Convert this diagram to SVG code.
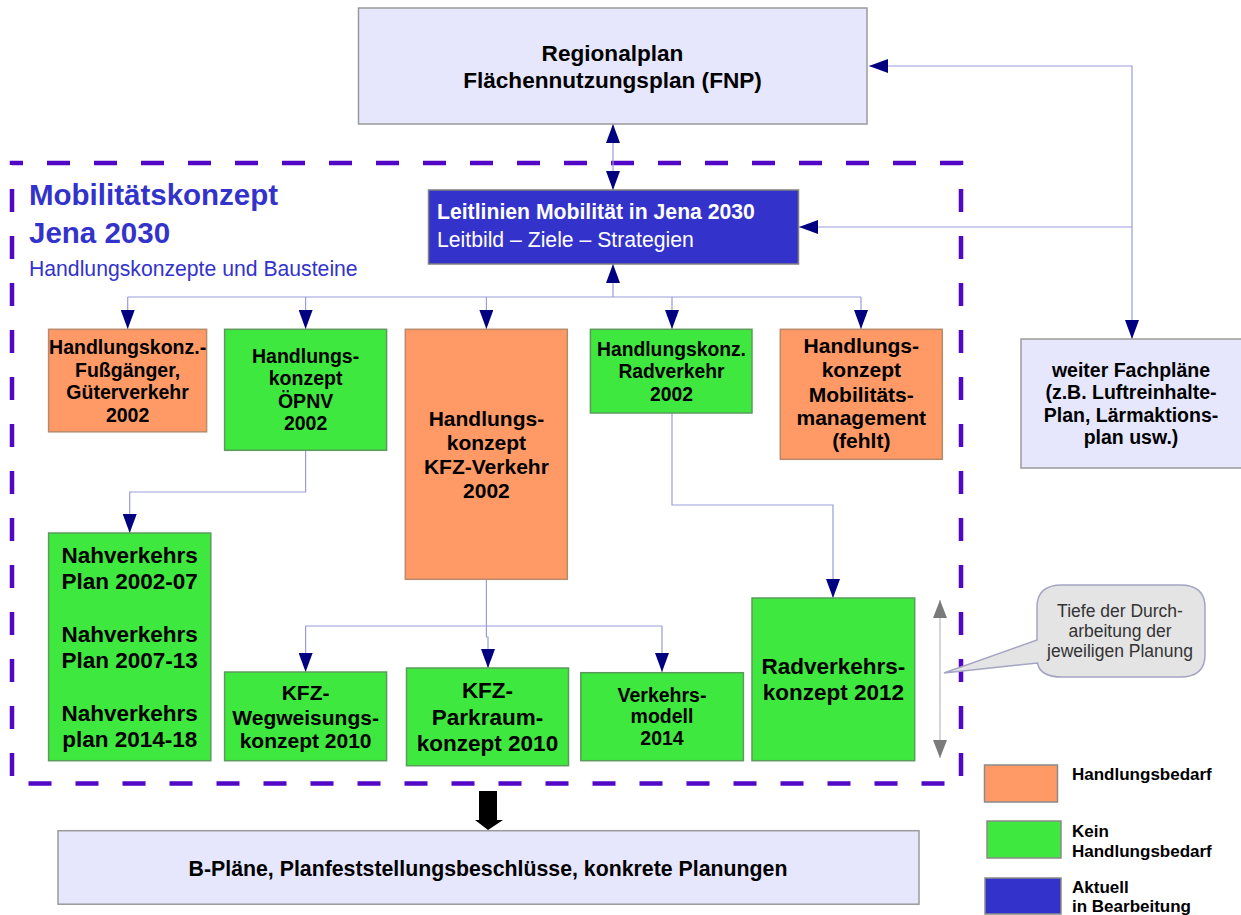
<svg xmlns="http://www.w3.org/2000/svg" width="1241" height="915" viewBox="0 0 1241 915">
<style>
.lav{fill:#e6e6fc;stroke:#9a9a9a;stroke-width:1.5}
.org{fill:#ff9966;stroke:#b98a6a;stroke-width:1.5}
.grn{fill:#3ee83e;stroke:#5c9a5c;stroke-width:1.5}
.blu{fill:#3333cc;stroke:#808080;stroke-width:1.5}
.leg{stroke:#8a8a8a;stroke-width:1.5}
text{font-family:"Liberation Sans",Arial,sans-serif}
.t{font-weight:bold;text-anchor:middle;fill:#000}
.c{fill:none;stroke:#9b9bdc;stroke-width:1.2}
.cm{fill:none;stroke:#9b9bdc;stroke-width:1.2;marker-end:url(#ah)}
</style>
<defs>
<marker id="ah" markerUnits="userSpaceOnUse" markerWidth="19" markerHeight="14" refX="19" refY="7" orient="auto-start-reverse">
<path d="M0,0 L19,7 L0,14 Z" fill="#000080"/>
</marker>
<marker id="gh" markerUnits="userSpaceOnUse" markerWidth="18" markerHeight="14" refX="18" refY="7" orient="auto-start-reverse">
<path d="M0,0 L18,7 L0,14 Z" fill="#7a7a7a"/>
</marker>
</defs>
<rect width="1241" height="915" fill="#ffffff"/>

<!-- dashed frame -->
<path d="M12,163 H961 V783.5 H12 Z" fill="none" stroke="#5206c6" stroke-width="4.5" stroke-dasharray="23 24" stroke-dashoffset="12"/>

<!-- title -->
<g id="title">
<text x="29" y="205" font-size="29.5" font-weight="bold" fill="#3333cc">Mobilitätskonzept</text>
<text x="29" y="243" font-size="29.5" font-weight="bold" fill="#3333cc">Jena 2030</text>
<text x="29" y="276" font-size="21.2" fill="#3333cc">Handlungskonzepte und Bausteine</text>
</g>

<!-- connectors -->
<g id="connectors">
<path class="c" d="M613,124 V190" marker-start="url(#ah)" marker-end="url(#ah)"/>
<path class="c" d="M869,66 H1132 V339" marker-start="url(#ah)" marker-end="url(#ah)"/>
<path class="cm" d="M1132,227 H799"/>
<path class="c" d="M127.7,297 H861"/>
<path class="cm" d="M613,297 V264"/>
<path class="cm" d="M127.7,297 V329"/>
<path class="cm" d="M305.6,297 V329"/>
<path class="cm" d="M486.4,297 V329"/>
<path class="cm" d="M672,297 V329"/>
<path class="cm" d="M861,297 V329"/>
<path class="cm" d="M305.6,450 V492 H129.7 V533"/>
<path class="c" d="M486.4,579 V626"/>
<path class="c" d="M305.6,626 H662"/>
<path class="cm" d="M305.6,626 V672"/>
<path class="cm" d="M486.4,626 V637 H488 V668"/>
<path class="cm" d="M662,626 V672"/>
<path class="cm" d="M672,413 V505 H833 V598"/>
<path d="M940,600 V758" fill="none" stroke="#c8c8c8" stroke-width="1.5" marker-start="url(#gh)" marker-end="url(#gh)"/>
<path d="M479,791 H497 V820 H503 L488,830 L475,820 H479 Z" fill="#000"/>
</g>

<g id="regionalplan">
<rect class="lav" x="358.5" y="8" width="508.5" height="116"/>
<text class="t" x="612.5" y="61" font-size="22.6">Regionalplan</text>
<text class="t" x="612.5" y="88" font-size="22.6">Flächennutzungsplan (FNP)</text>
</g>

<g id="leitlinien">
<rect class="blu" x="428.5" y="190" width="370" height="74"/>
<text x="437" y="219" font-size="21.2" font-weight="bold" fill="#ffffff">Leitlinien Mobilität in Jena 2030</text>
<text x="437" y="247" font-size="21.2" fill="#ffffff">Leitbild – Ziele – Strategien</text>
</g>

<g id="fussgaenger">
<rect class="org" x="48.6" y="329.3" width="158" height="102.5"/>
<text class="t" x="127.6" y="354" font-size="19.5">Handlungskonz.-</text>
<text class="t" x="127.6" y="377" font-size="19.5">Fußgänger,</text>
<text class="t" x="127.6" y="399" font-size="19.5">Güterverkehr</text>
<text class="t" x="127.6" y="422" font-size="19.5">2002</text>
</g>

<g id="oepnv">
<rect class="grn" x="224.6" y="329.3" width="162" height="121"/>
<text class="t" x="305.6" y="363" font-size="19.5">Handlungs-</text>
<text class="t" x="305.6" y="385" font-size="19.5">konzept</text>
<text class="t" x="305.6" y="408" font-size="19.5">ÖPNV</text>
<text class="t" x="305.6" y="430" font-size="19.5">2002</text>
</g>

<g id="kfz">
<rect class="org" x="405.3" y="329.3" width="162" height="250"/>
<text class="t" x="486.4" y="426" font-size="21">Handlungs-</text>
<text class="t" x="486.4" y="450" font-size="21">konzept</text>
<text class="t" x="486.4" y="474" font-size="21">KFZ-Verkehr</text>
<text class="t" x="486.4" y="498" font-size="21">2002</text>
</g>

<g id="radverkehr">
<rect class="grn" x="590.4" y="329.3" width="161.6" height="83.7"/>
<text class="t" x="671.5" y="356" font-size="19.3">Handlungskonz.</text>
<text class="t" x="671.5" y="378" font-size="19.3">Radverkehr</text>
<text class="t" x="671.5" y="401" font-size="19.3">2002</text>
</g>

<g id="mobilitaetsmanagement">
<rect class="org" x="780.3" y="329.3" width="162" height="130"/>
<text class="t" x="861.3" y="353" font-size="21">Handlungs-</text>
<text class="t" x="861.3" y="377" font-size="21">konzept</text>
<text class="t" x="861.3" y="402" font-size="21">Mobilitäts-</text>
<text class="t" x="861.3" y="425" font-size="21">management</text>
<text class="t" x="861.3" y="448" font-size="21">(fehlt)</text>
</g>

<g id="fachplaene">
<rect class="lav" x="1021" y="339" width="226" height="129"/>
<text class="t" x="1131" y="377" font-size="19.5">weiter Fachpläne</text>
<text class="t" x="1131" y="399" font-size="19.5">(z.B. Luftreinhalte-</text>
<text class="t" x="1131" y="422" font-size="19.5">Plan, Lärmaktions-</text>
<text class="t" x="1131" y="444" font-size="19.5">plan usw.)</text>
</g>

<g id="nahverkehr">
<rect class="grn" x="48.6" y="533" width="162.2" height="227.7"/>
<text class="t" x="129.7" y="563" font-size="22.5">Nahverkehrs</text>
<text class="t" x="129.7" y="589" font-size="22.5">Plan 2002-07</text>
<text class="t" x="129.7" y="642" font-size="22.5">Nahverkehrs</text>
<text class="t" x="129.7" y="668" font-size="22.5">Plan 2007-13</text>
<text class="t" x="129.7" y="721" font-size="22.5">Nahverkehrs</text>
<text class="t" x="129.7" y="747" font-size="22.5">plan 2014-18</text>
</g>

<g id="wegweisung">
<rect class="grn" x="224.6" y="672" width="162" height="88.7"/>
<text class="t" x="305.6" y="700" font-size="21">KFZ-</text>
<text class="t" x="305.6" y="725" font-size="21">Wegweisungs-</text>
<text class="t" x="305.6" y="748" font-size="21">konzept 2010</text>
</g>

<g id="parkraum">
<rect class="grn" x="406.5" y="668" width="162" height="97.7"/>
<text class="t" x="487.5" y="698" font-size="22.5">KFZ-</text>
<text class="t" x="487.5" y="725" font-size="22.5">Parkraum-</text>
<text class="t" x="487.5" y="751" font-size="22.5">konzept 2010</text>
</g>

<g id="verkehrsmodell">
<rect class="grn" x="580.8" y="672.7" width="162.6" height="88"/>
<text class="t" x="662" y="702" font-size="19.5">Verkehrs-</text>
<text class="t" x="662" y="723" font-size="19.5">modell</text>
<text class="t" x="662" y="745" font-size="19.5">2014</text>
</g>

<g id="radverkehrskonzept">
<rect class="grn" x="752" y="598" width="162.7" height="162.7"/>
<text class="t" x="833.4" y="674" font-size="22.5">Radverkehrs-</text>
<text class="t" x="833.4" y="700" font-size="22.5">konzept 2012</text>
</g>

<g id="callout">
<path d="M1062,585 H1180 Q1205,585 1205,607 V655 Q1205,677 1180,677 H1062 Q1040,677 1037.5,663 L944,673 L1037,640 V607 Q1037,585 1062,585 Z" fill="#e4e4e4" stroke="#a4a4c4" stroke-width="1.5"/>
<text x="1120" y="617" font-size="17.5" text-anchor="middle" fill="#333333">Tiefe der Durch-</text>
<text x="1120" y="637" font-size="17.5" text-anchor="middle" fill="#333333">arbeitung der</text>
<text x="1120" y="657" font-size="17.5" text-anchor="middle" fill="#333333">jeweiligen Planung</text>
</g>

<g id="bplaene">
<rect class="lav" x="58" y="830.7" width="861" height="73.5"/>
<text class="t" x="488" y="876" font-size="21.3">B-Pläne, Planfeststellungsbeschlüsse, konkrete Planungen</text>
</g>

<g id="legend">
<rect class="leg" x="984.5" y="765" width="73" height="37" fill="#ff9966"/>
<text x="1072" y="780" font-size="17" font-weight="bold" fill="#000">Handlungsbedarf</text>
<rect class="leg" x="987" y="821" width="74" height="37" fill="#3ee83e"/>
<text x="1072" y="837" font-size="17" font-weight="bold" fill="#000">Kein</text>
<text x="1072" y="857" font-size="17" font-weight="bold" fill="#000">Handlungsbedarf</text>
<rect class="leg" x="985" y="878" width="76" height="36" fill="#3333cc"/>
<text x="1072" y="893" font-size="17" font-weight="bold" fill="#000">Aktuell</text>
<text x="1072" y="912" font-size="17" font-weight="bold" fill="#000">in Bearbeitung</text>
</g>
</svg>
